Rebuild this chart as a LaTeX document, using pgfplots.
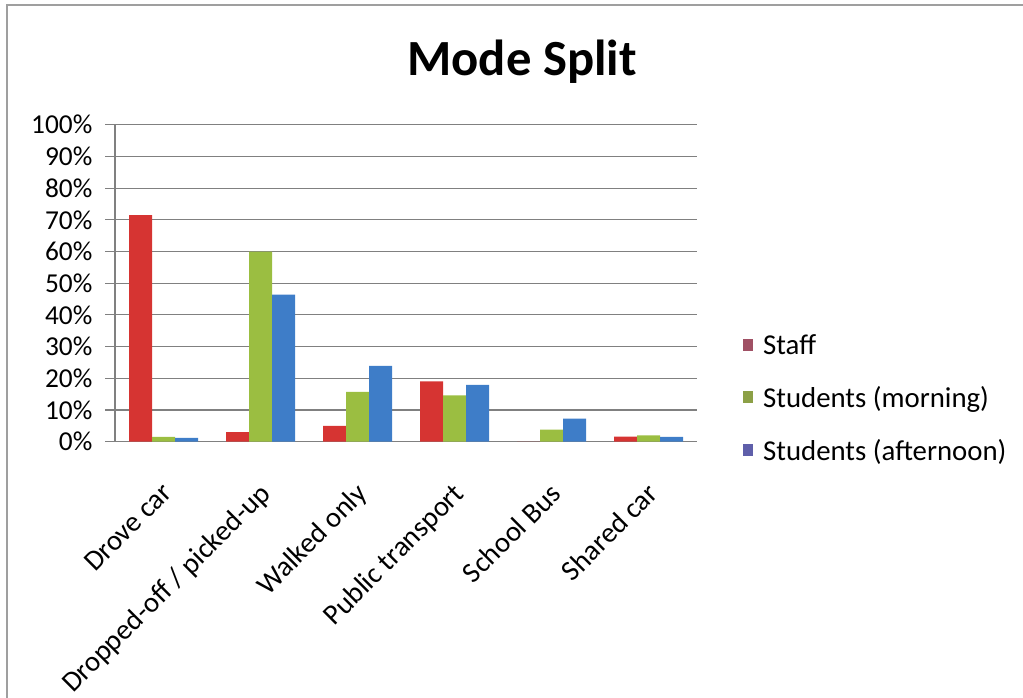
\documentclass[border=0pt]{standalone}
\usepackage{fontspec}
\setmainfont{Carlito}
\usepackage{pgfplots}
\pgfplotsset{compat=1.18}
\definecolor{cstaff}{RGB}{214,52,50}
\definecolor{cmorn}{RGB}{155,190,65}
\definecolor{caft}{RGB}{62,125,200}
\definecolor{lstaff}{RGB}{160,80,100}
\definecolor{lmorn}{RGB}{140,160,70}
\definecolor{laft}{RGB}{95,95,170}
\definecolor{gridc}{RGB}{128,128,128}
\begin{document}
\begin{tikzpicture}
\path[use as bounding box] (0pt,0pt) rectangle (767.25pt,523.5pt);
\draw[gray!75, line width=1.8pt] (5.25pt,0pt) -- (5.25pt,519.75pt) -- (767.25pt,519.75pt);
\node[font=\bfseries\fontsize{38}{44}\selectfont] at (391.5pt,477pt) {Mode Split};
\begin{axis}[
  at={(86.25pt,192.2pt)}, anchor=south west,
  scale only axis, width=436.5pt, height=237.75pt,
  bar width=17.25pt,
  xmin=-0.5, xmax=5.5, ymin=0, ymax=100,
  axis x line*=bottom, axis y line*=left,
  axis line style={gridc, line width=0.8pt},
  xtick={0,1,2,3,4,5},
  xticklabels={Drove car, Dropped-off / picked-up, Walked only, Public transport, School Bus, Shared car},
  major x tick style={draw=none},
  extra x ticks={-0.5,0.5,1.5,2.5,3.5,4.5,5.5},
  extra x tick labels={},
  extra x tick style={major tick length=7pt, tick align=outside, tick style={gridc, line width=0.8pt}, grid=none},
  xticklabel style={rotate=45, anchor=north east, font=\fontsize{21.5}{24}\selectfont, inner sep=0pt, xshift=-17pt, yshift=-14pt},
  ytick={0,10,...,100},
  yticklabel={\pgfmathprintnumber{\tick}\%},
  yticklabel style={font=\fontsize{20.5}{23}\selectfont, xshift=-6pt},
  /pgf/number format/assume math mode=true,
  tick align=outside, major tick length=7.5pt,
  ytick style={gridc, line width=0.8pt},
  ymajorgrids, grid style={gridc, line width=0.8pt},
  legend style={at={(1.072,0.352)}, anchor=north west, draw=none, fill=none,
    font=\fontsize{21.6}{24}\selectfont, row sep=20.5pt, nodes={inner sep=1pt},
    /tikz/every odd column/.style={column sep=7pt}},
  legend cell align=left,
  legend image code/.code={\fill[#1] (0pt,-4pt) rectangle (7pt,5pt);},
]
\addplot[ybar, bar shift=-17.25pt, fill=cstaff, draw=none, forget plot] coordinates {(0,71.5) (1,3.0) (2,5.0) (3,19.0) (4,0) (5,1.6)};
\addplot[ybar, bar shift=0pt, fill=cmorn, draw=none, forget plot] coordinates {(0,1.5) (1,60.0) (2,15.7) (3,14.6) (4,3.8) (5,2.0)};
\addplot[ybar, bar shift=17.25pt, fill=caft, draw=none, forget plot] coordinates {(0,1.2) (1,46.4) (2,23.9) (3,17.9) (4,7.3) (5,1.5)};
\addlegendimage{fill=lstaff, draw=none}
\addlegendentry{Staff}
\addlegendimage{fill=lmorn, draw=none}
\addlegendentry{Students (morning)}
\addlegendimage{fill=laft, draw=none}
\addlegendentry{Students (afternoon)}
\end{axis}
\end{tikzpicture}
\end{document}
